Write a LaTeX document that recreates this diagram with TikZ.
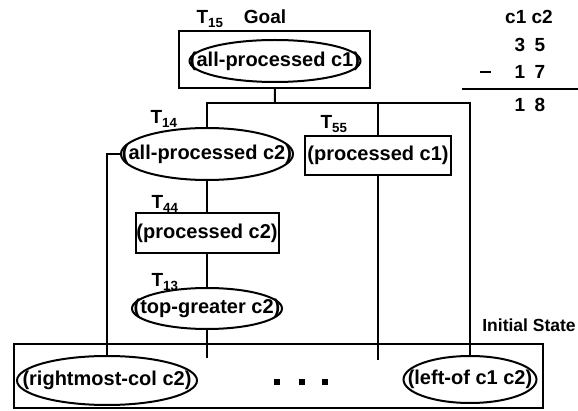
\documentclass[tikz,border=0pt]{standalone}
\usepackage{fontspec}
\setmainfont{Liberation Sans}
\usetikzlibrary{shapes.geometric}

\begin{document}
\begin{tikzpicture}[
    x=1pt, y=-1pt,
    line width=2pt,
    font=\bfseries\fontsize{20}{23}\selectfont,
    mybox/.style={draw, rectangle, inner sep=0pt},
    myoval/.style={draw, ellipse, inner sep=0pt},
    mylabel/.style={inner sep=0pt, font=\bfseries\fontsize{19}{22}\selectfont},
    mydot/.style={fill, rectangle, minimum size=6pt, inner sep=0pt}
]
  \useasboundingbox (0,0) rectangle (578,411);

  % Nodes
  \node[mybox, minimum width=191pt, minimum height=57pt] (goalbox) at (274.5,59.5) {};
  \node[myoval, minimum width=171pt, minimum height=42pt, label={center:(all-processed c1)}] (allc1) at (275,61) {};
  \node[mylabel] (t15) at (210,19) {T\textsubscript{15}};
  \node[mylabel] (goal) at (265,17) {Goal};

  \node[myoval, minimum width=172pt, minimum height=52pt, label={center:(all-processed c2)}] (allc2) at (207,154) {};
  \node[mylabel] (t14) at (164,119) {T\textsubscript{14}};
  \node[mybox, minimum width=146pt, minimum height=39pt] (procc1) at (378,155.5) {(processed c1)};
  \node[mylabel] (t55) at (334,124) {T\textsubscript{55}};

  \node[mybox, minimum width=143pt, minimum height=40pt] (procc2) at (207,233) {(processed c2)};
  \node[mylabel] (t44) at (165,204) {T\textsubscript{44}};
  \node[myoval, minimum width=150pt, minimum height=41pt, label={center:(top-greater c2)}] (topgc2) at (207,308.5) {};
  \node[mylabel] (t13) at (165,282) {T\textsubscript{13}};

  \node[mybox, minimum width=529pt, minimum height=64pt] (init) at (278.5,376) {};
  \node[mylabel, font=\bfseries\fontsize{17.5}{20}\selectfont] (initlbl) at (529,325) {Initial State};
  \node[myoval, minimum width=180pt, minimum height=49pt, label={center:(rightmost-col c2)}] (rmcol) at (107,380.5) {};
  \node[myoval, minimum width=133pt, minimum height=47pt, label={center:(left-of c1 c2)}] (leftof) at (470,379.5) {};
  \node[mydot] (dot1) at (277,382) {};
  \node[mydot] (dot2) at (302,382) {};
  \node[mydot] (dot3) at (325,382) {};

  % Subtraction
  \node[mylabel] (cols) at (529,17) {c1 c2};
  \node[mylabel] (a1) at (520,45) {3};
  \node[mylabel] (a2) at (540,45) {5};
  \node[mylabel] (minus) at (485,72) {\rule{11pt}{2.6pt}};
  \node[mylabel] (b1) at (520,72) {1};
  \node[mylabel] (b2) at (540,72) {7};
  \node[mylabel] (r1) at (520,105) {1};
  \node[mylabel] (r2) at (540,105) {8};
  \coordinate (ruleL) at (462,89);
  \coordinate (ruleR) at (578,89);
  \draw (ruleL) -- (ruleR);

  % Links
  \coordinate (split) at (275,103);
  \coordinate (topgend) at (207,358);
  \coordinate (procend) at (378,360);
  \draw (goalbox) -- (split);
  \draw (allc2) |- (split);
  \draw (procc1) |- (split);
  \draw (leftof) |- (split);
  \draw (allc2.west) -| (rmcol);
  \draw (allc2) -- (procc2);
  \draw (procc2) -- (topgc2);
  \draw (topgc2) -- (topgend);
  \draw (procc1) -- (procend);

\end{tikzpicture}
\end{document}
